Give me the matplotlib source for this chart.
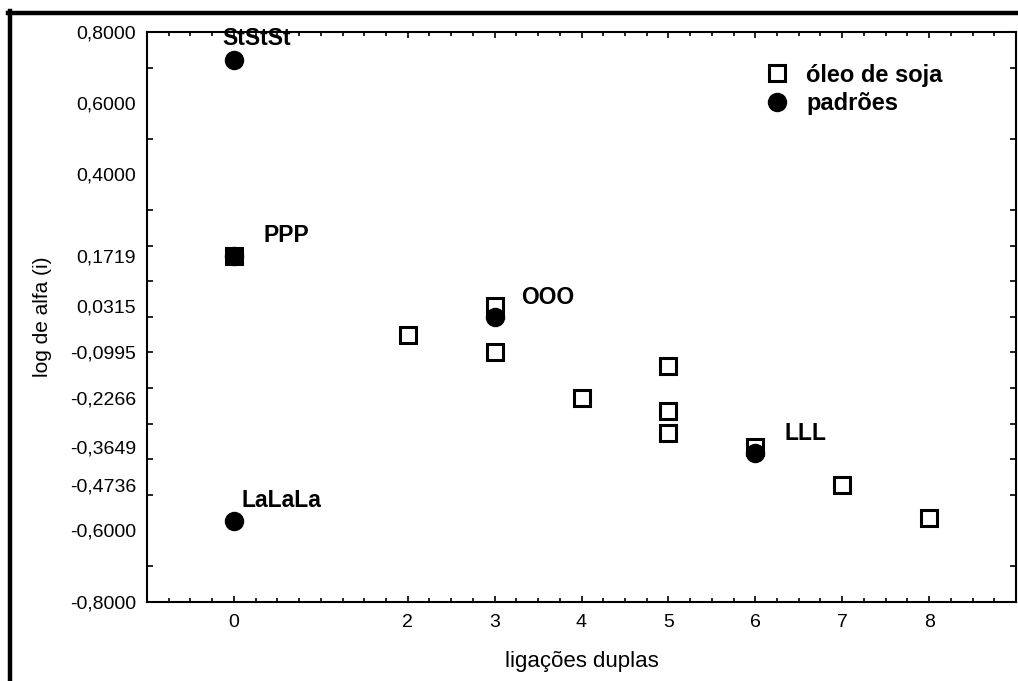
import matplotlib
matplotlib.use("Agg")
import matplotlib.pyplot as plt
from matplotlib.lines import Line2D
from matplotlib.ticker import FixedLocator, MultipleLocator
import numpy as np

plt.rcParams['font.family'] = ['Liberation Sans', 'DejaVu Sans']

# --- data ---
soja_x = [0, 2, 3, 3, 4, 5, 5, 5, 6, 7, 8]
soja_y = [0.1719, -0.052, 0.0315, -0.0995, -0.2266, -0.138, -0.265, -0.327, -0.3649, -0.4736, -0.565]
padroes_x = [0, 0, 0, 3, 6]
padroes_y = [0.721, 0.1719, -0.574, 0.0, -0.381]
padroes_names = ["StStSt", "PPP", "LaLaLa", "OOO", "LLL"]
name_pos_x = [-0.13, 0.34, 0.09, 3.30, 6.34]
name_pos_y = [0.783, 0.229, -0.516, 0.055, -0.328]

ytick_vals = [0.8, 0.6, 0.4, 0.1719, 0.0315, -0.0995, -0.2266, -0.3649, -0.4736, -0.6, -0.8]
ytick_labels = ["0,8000", "0,6000", "0,4000", "0,1719", "0,0315", "-0,0995",
                "-0,2266", "-0,3649", "-0,4736", "-0,6000", "-0,8000"]
xtick_vals = [0, 2, 3, 4, 5, 6, 7, 8]
xtick_labels = ["0", "2", "3", "4", "5", "6", "7", "8"]

fig = plt.figure(figsize=(10.18, 6.81), dpi=100)
ax = fig.add_axes([147/1018, 1-601.7/681, (1016-147)/1018, (601.7-32)/681])

ax.plot(padroes_x, padroes_y, linestyle='none', marker='o', markersize=14.0,
        markerfacecolor='black', markeredgecolor='black', markeredgewidth=0, zorder=3)
ax.plot(soja_x, soja_y, linestyle='none', marker='s', markersize=11.5,
        markerfacecolor='none', markeredgecolor='black', markeredgewidth=2.2, zorder=4)

for n, x, y in zip(padroes_names, name_pos_x, name_pos_y):
    ax.text(x, y, n, fontsize=16.5, fontweight='bold', ha='left', va='center')

ax.set_xlim(-1, 9)
ax.set_ylim(-0.8, 0.8)

ax.xaxis.set_major_locator(FixedLocator(xtick_vals))
ax.set_xticklabels(xtick_labels)
ax.xaxis.set_minor_locator(MultipleLocator(0.25))
ax.yaxis.set_major_locator(FixedLocator(ytick_vals))
ax.set_yticklabels(ytick_labels)
ax.yaxis.set_minor_locator(MultipleLocator(0.1))

ax.tick_params(which='both', direction='in', top=True, right=True, width=1.2, labelsize=14)
ax.tick_params(axis='x', which='major', length=4, pad=9)
ax.tick_params(axis='x', which='minor', length=3)
ax.tick_params(axis='y', which='major', length=0, pad=8)
ax.tick_params(axis='y', which='minor', length=4)
for s in ax.spines.values():
    s.set_linewidth(1.5)

ax.set_xlabel("ligações duplas", fontsize=16, labelpad=14)
ax.set_ylabel("log de alfa (i)", fontsize=15, labelpad=13)

handles = [
    Line2D([], [], linestyle='none', marker='s', markersize=11.5, markerfacecolor='none',
           markeredgecolor='black', markeredgewidth=2.2),
    Line2D([], [], linestyle='none', marker='o', markersize=14.0, markerfacecolor='black',
           markeredgewidth=0),
]
ax.legend(handles, ["óleo de soja", "padrões"], loc='upper left',
          bbox_to_anchor=(0.6865, 0.982), frameon=False, handlelength=1.0,
          handletextpad=0.75, labelspacing=0.25, prop={'weight': 'bold', 'size': 17})

# figure frame lines (top and left)
fig.add_artist(Line2D([8/1018, 1.0], [1-13/681, 1-13/681], color='black', linewidth=3.2,
                      transform=fig.transFigure))
fig.add_artist(Line2D([10/1018, 10/1018], [0, 1-11/681], color='black', linewidth=3.2,
                      transform=fig.transFigure))

fig.savefig("out.png", dpi=100)
